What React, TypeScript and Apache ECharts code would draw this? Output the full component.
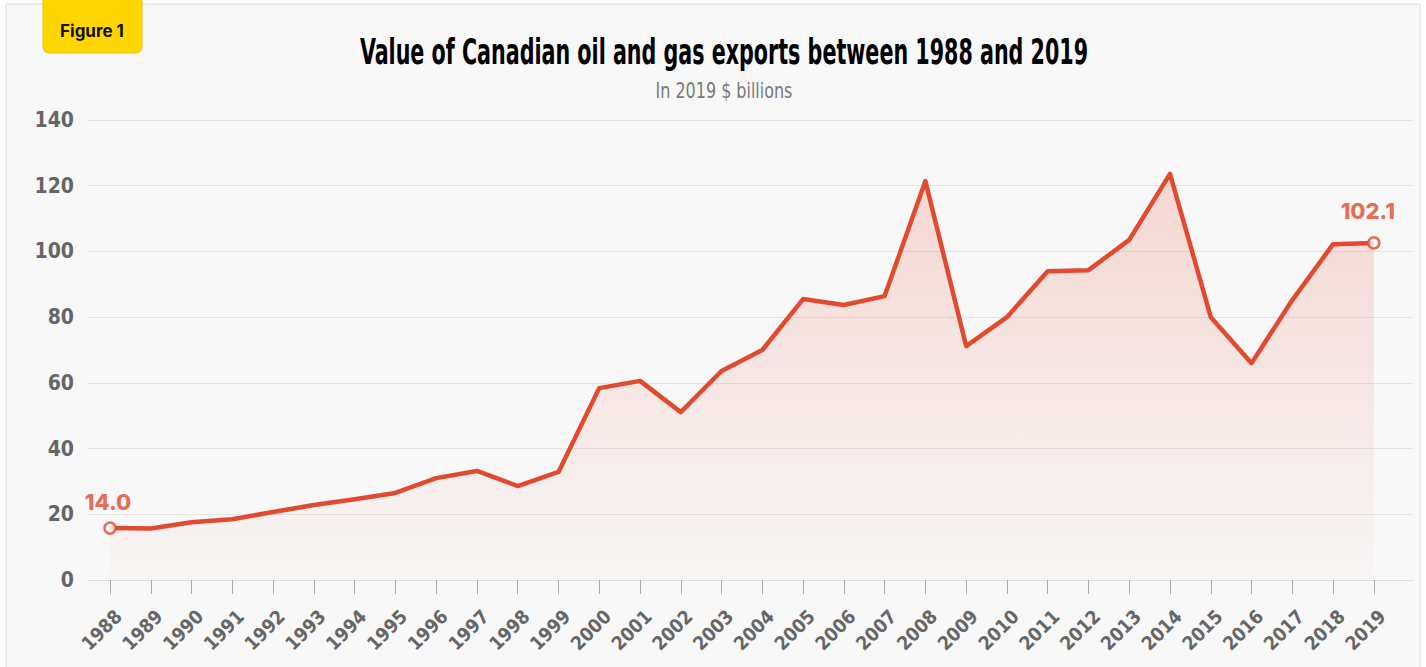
import React, { useEffect, useRef } from "react";
import * as echarts from "echarts";

const years = [
  "1988","1989","1990","1991","1992","1993","1994","1995","1996","1997","1998","1999",
  "2000","2001","2002","2003","2004","2005","2006","2007","2008","2009","2010","2011",
  "2012","2013","2014","2015","2016","2017","2018","2019",
];
const exportsValue = [
  15.8, 15.7, 17.6, 18.5, 20.7, 22.8, 24.6, 26.5, 31.0, 33.2, 28.6, 32.9,
  58.4, 60.6, 51.1, 63.6, 70.0, 85.5, 83.7, 86.4, 121.4, 71.2, 80.0, 94.0,
  94.3, 103.5, 123.6, 80.0, 66.0, 85.2, 102.2, 102.6,
];
const endLabels = ["14.0", "102.1"];
const yTicks = [0, 20, 40, 60, 80, 100, 120, 140];
const titleText = "Value of Canadian oil and gas exports between 1988 and 2019";
const subtitleText = "In 2019 $ billions";

const RED = "#e24a2f";
const COND = "'DejaVu Sans Condensed', 'DejaVu Sans', sans-serif";

export default function App() {
  const ref = useRef<HTMLDivElement>(null);
  useEffect(() => {
    document.body.style.margin = "0";
    const chart = echarts.init(ref.current!, null, { renderer: "svg" });
    const idx = years.map((_, i) => i);
    const labelPos = idx.map((i) => i + 0.2);
    const last = years.length - 1;
    chart.setOption({
      animation: false,
      backgroundColor: "#ffffff",
      graphic: [
        {
          type: "rect",
          shape: { x: 6, y: 4, width: 1414, height: 700 },
          style: { fill: "#f8f8f8", stroke: "#dcdcdc", lineWidth: 1 },
          z: -10,
        },
        {
          type: "rect",
          shape: { x: 43, y: -8, width: 99, height: 61, r: 6 },
          style: { fill: "#ffd600", stroke: "#e8c200", lineWidth: 1 },
          z: 10,
        },
        {
          type: "text",
          x: 92,
          y: 31,
          style: {
            text: "Figure 1",
            font: "bold 17px Inter, 'Noto Sans', sans-serif",
            fill: "#111",
            align: "center",
            verticalAlign: "middle",
          },
          z: 11,
        },
        {
          type: "text",
          x: 724,
          y: 51,
          scaleX: 0.638,
          style: {
            text: titleText,
            font: "bold 36px 'DejaVu Sans Condensed', 'DejaVu Sans', sans-serif",
            fill: "#000",
            align: "center",
            verticalAlign: "middle",
          },
          z: 11,
        },
        {
          type: "text",
          x: 724,
          y: 91,
          scaleX: 0.845,
          style: {
            text: subtitleText,
            font: "21px 'DejaVu Sans Condensed', 'DejaVu Sans', sans-serif",
            fill: "#7a7a7a",
            align: "center",
            verticalAlign: "middle",
          },
          z: 11,
        },
      ],
      grid: { left: 88, top: 120, width: 1325, height: 460, containLabel: false },
      xAxis: {
        type: "value",
        min: -0.54,
        max: 31.96,
        splitLine: { show: false },
        axisLine: { show: true, lineStyle: { color: "#dddddd" } },
        axisTick: {
          show: true,
          customValues: idx,
          length: 14,
          lineStyle: { color: "#aaaaaa" },
        },
        axisLabel: {
          customValues: labelPos,
          formatter: (v: number) => years[Math.round(v)] ?? "",
          rotate: 45,
          margin: 33,
          fontFamily: COND,
          fontSize: 19,
          fontWeight: "bold",
          color: "#666",
        },
      },
      yAxis: {
        type: "value",
        min: 0,
        max: 140,
        interval: 20,
        axisLine: { show: false },
        axisTick: { show: false },
        splitLine: { lineStyle: { color: "#e4e4e4" } },
        axisLabel: {
          customValues: yTicks,
          margin: 14,
          fontFamily: COND,
          fontSize: 21,
          fontWeight: "bold",
          color: "#666",
        },
      },
      series: [
        {
          type: "line",
          data: exportsValue.map((v, i) => [i, v]),
          symbol: "none",
          lineStyle: { color: RED, width: 4.5, join: "round" },
          areaStyle: {
            color: new echarts.graphic.LinearGradient(0, 0, 0, 1, [
              { offset: 0, color: "rgba(226,74,47,0.27)" },
              { offset: 1, color: "rgba(226,74,47,0.02)" },
            ]),
          },
          z: 2,
        },
        {
          type: "scatter",
          data: [
            { value: [0, exportsValue[0]], label: { formatter: endLabels[0], offset: [-2, -2] } },
            { value: [last, exportsValue[last]], label: { formatter: endLabels[1], offset: [-6, -8] } },
          ],
          symbol: "circle",
          symbolSize: 11,
          itemStyle: { color: "#ffffff", borderColor: RED, borderWidth: 2.5 },
          label: {
            show: true,
            position: "top",
            distance: 6,
            fontFamily: "Inter, 'Noto Sans', sans-serif",
            fontWeight: 800,
            fontSize: 22,
            color: "#e0452a",
          },
          z: 5,
        },
      ],
    });
    return () => chart.dispose();
  }, []);
  return <div ref={ref} style={{ width: 1426, height: 667 }} />;
}
